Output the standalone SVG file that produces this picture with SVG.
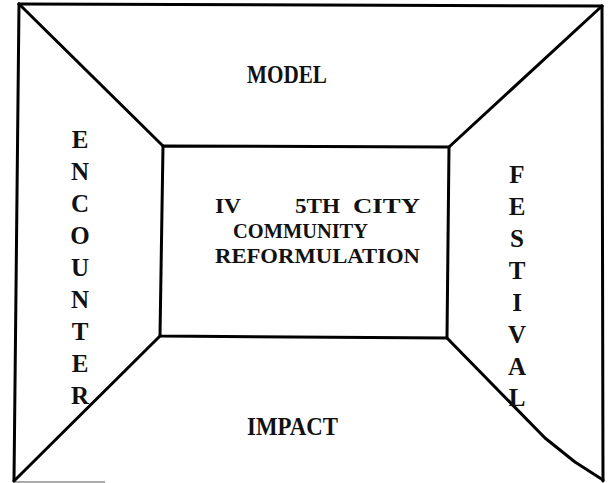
<svg xmlns="http://www.w3.org/2000/svg" width="608" height="483" viewBox="0 0 608 483">
<style>
.ln{fill:none;stroke:#000;stroke-width:3;stroke-linecap:round;stroke-linejoin:round}
.t{font-family:"Liberation Serif","Times New Roman",serif;font-weight:bold;font-size:25px;fill:#111}
.c{font-size:22px}
.v{text-anchor:middle}
</style>
<rect width="608" height="483" fill="#fff"/>
<g id="connectors">
<path class="ln" d="M19,4 L602,6"/>
<path class="ln" d="M19,4 L14,481"/>
<path class="ln" d="M602,6 L603,481"/>
<path d="M14,482 L105,482" fill="none" stroke="#aaa" stroke-width="2"/>
<path class="ln" d="M19,4 L163,146"/>
<path class="ln" d="M602,6 L449,147"/>
<path class="ln" d="M14,481 L160,336"/>
<path class="ln" d="M447,338 L545,438 L575,462 L603,480"/>
</g>
<g id="center">
<path class="ln" d="M163,146 L449,147 L447,338 L160,336 Z"/>
<text class="t c" x="215" y="213" textLength="26" lengthAdjust="spacingAndGlyphs">IV</text>
<text class="t c" x="295" y="213" textLength="45" lengthAdjust="spacingAndGlyphs">5TH</text>
<text class="t c" x="353" y="213" textLength="67" lengthAdjust="spacingAndGlyphs">CITY</text>
<text class="t c" x="233" y="238" textLength="135" lengthAdjust="spacingAndGlyphs">COMMUNITY</text>
<text class="t c" x="215" y="263" textLength="205" lengthAdjust="spacingAndGlyphs">REFORMULATION</text>
</g>
<g id="model"><text class="t" x="247" y="83" textLength="80" lengthAdjust="spacingAndGlyphs">MODEL</text></g>
<g id="impact"><text class="t" x="247" y="435" textLength="91" lengthAdjust="spacingAndGlyphs">IMPACT</text></g>
<g id="encounter" class="t v">
<text x="80" y="148">E</text>
<text x="80" y="180">N</text>
<text x="80" y="212">C</text>
<text x="80" y="244">O</text>
<text x="80" y="276">U</text>
<text x="80" y="308">N</text>
<text x="80" y="340">T</text>
<text x="80" y="372">E</text>
<text x="80" y="404">R</text>
</g>
<g id="festival" class="t v">
<text x="517" y="183">F</text>
<text x="517" y="215">E</text>
<text x="517" y="247">S</text>
<text x="517" y="279">T</text>
<text x="517" y="311">I</text>
<text x="517" y="343">V</text>
<text x="517" y="375">A</text>
<text x="517" y="406">L</text>
</g>
</svg>
